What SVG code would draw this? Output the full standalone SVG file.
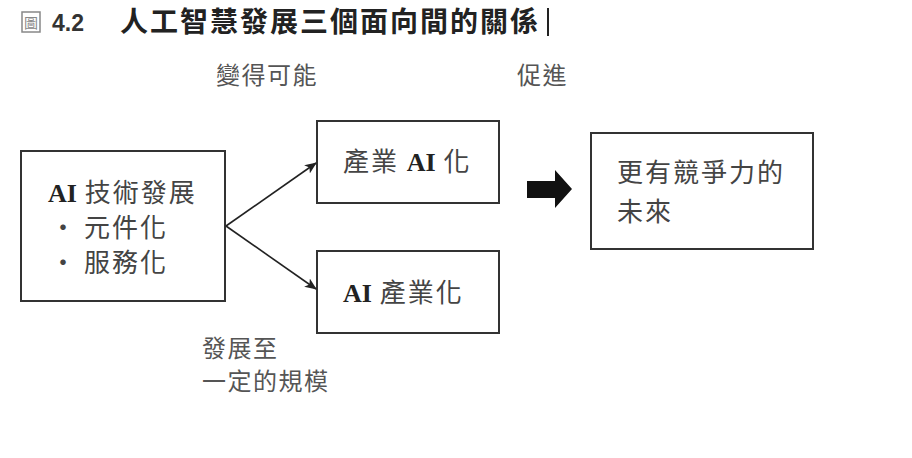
<svg xmlns="http://www.w3.org/2000/svg" width="912" height="458" viewBox="0 0 912 458">
<defs>
<style>
.box{fill:#fff;stroke:#333;stroke-width:2}
.t{font-family:"Noto Sans CJK TC","Noto Sans CJK SC",sans-serif;font-size:26px;letter-spacing:2px;fill:#444}
.ai{font-family:"Liberation Serif",serif;font-weight:bold;letter-spacing:0;fill:#222}
.lbl{font-family:"Noto Sans CJK TC","Noto Sans CJK SC",sans-serif;font-size:24px;letter-spacing:1.5px;fill:#555}
.ttl{font-family:"Noto Sans CJK TC","Noto Sans CJK SC",sans-serif;font-size:28px;letter-spacing:2px;font-weight:bold;fill:#222}
.con{stroke:#222;stroke-width:1.6;fill:none;marker-end:url(#ah)}
</style>
<marker id="ah" viewBox="0 0 12 10" refX="11" refY="5" markerWidth="12" markerHeight="10" markerUnits="userSpaceOnUse" orient="auto">
<path d="M0,0 L12,5 L0,10 L3,5 Z" fill="#222"/>
</marker>
</defs>
<rect width="912" height="458" fill="#fff"/>
<g id="title">
<rect x="22" y="12" width="18" height="20" fill="none" stroke="#888" stroke-width="1.5"/>
<text x="31" y="28" text-anchor="middle" style="font-family:'Noto Sans CJK TC',sans-serif;font-size:14px;fill:#888">圖</text>
<text x="52" y="31" style="font-family:'Liberation Sans',sans-serif;font-size:23px;font-weight:bold;fill:#333">4.2</text>
<text x="120" y="32" class="ttl">人工智慧發展三個面向間的關係</text>
<rect x="547" y="8" width="2" height="28" fill="#222"/>
</g>
<g id="node-ai-tech">
<rect class="box" x="21" y="151" width="204" height="150"/>
<text class="t" x="48" y="202"><tspan class="ai">AI</tspan> 技術發展</text>
<text class="t" x="50" y="237">・</text>
<text class="t" x="84" y="237">元件化</text>
<text class="t" x="50" y="272">・</text>
<text class="t" x="84" y="272">服務化</text>
</g>
<g id="node-industry-ai">
<rect class="box" x="317" y="121" width="182" height="82"/>
<text class="t" x="343" y="171">產業 <tspan class="ai">AI</tspan> 化</text>
</g>
<g id="node-ai-industry">
<rect class="box" x="317" y="251" width="182" height="82"/>
<text class="t" x="343" y="302"><tspan class="ai">AI</tspan> 產業化</text>
</g>
<g id="node-future">
<rect class="box" x="591" y="133" width="222" height="116"/>
<text class="t" x="617" y="182">更有競爭力的</text>
<text class="t" x="617" y="221">未來</text>
</g>
<g id="connectors">
<line class="con" x1="226" y1="226" x2="316" y2="163"/>
<line class="con" x1="226" y1="226" x2="316" y2="289"/>
<path d="M527,181 L555,181 L555,170 L572,189 L555,208 L555,198 L527,198 Z" fill="#111"/>
</g>
<g id="labels">
<text class="lbl" x="216" y="84">變得可能</text>
<text class="lbl" x="517" y="84">促進</text>
<text class="lbl" x="202" y="357">發展至</text>
<text class="lbl" x="202" y="390">一定的規模</text>
</g>
</svg>
